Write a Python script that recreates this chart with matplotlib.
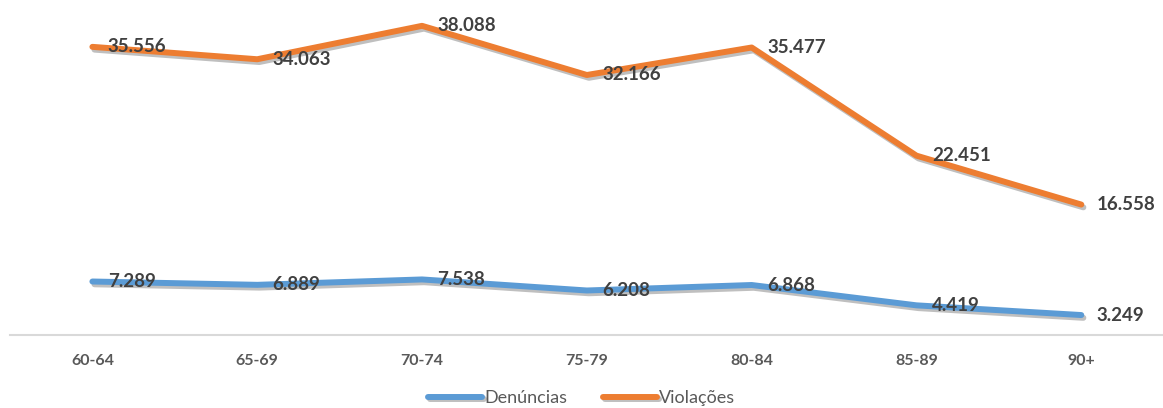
import matplotlib.pyplot as plt
import matplotlib.patheffects as pe

faixas = ['60-64', '65-69', '70-74', '75-79', '80-84', '85-89', '90+']
denuncias = [7289, 6889, 7538, 6208, 6868, 4419, 3249]
violacoes = [35556, 34063, 38088, 32166, 35477, 22451, 16558]

azul = '#5B9BD5'
laranja = '#ED7D31'


def fmt(v):
    # separador de milhar com ponto
    return f'{v:,}'.replace(',', '.')


fig = plt.figure(figsize=(11.63, 4.08), dpi=100)
ax = fig.add_axes([0.0086, 0.179, 0.992, 0.821])

x = range(len(faixas))
sombra = [pe.SimpleLineShadow(offset=(1.5, -2), alpha=0.25, shadow_color='black'), pe.Normal()]
ax.plot(x, denuncias, color=azul, lw=4.3, solid_capstyle='round',
        path_effects=sombra, label='Denúncias')
ax.plot(x, violacoes, color=laranja, lw=4.3, solid_capstyle='round',
        path_effects=sombra, label='Violações')

# rótulos de dados à direita dos pontos
for serie in (denuncias, violacoes):
    for i, v in enumerate(serie):
        ax.annotate(fmt(v), (i, v), xytext=(11, 0), textcoords='offset points',
                    ha='left', va='center', fontsize=13.5, fontweight='bold',
                    family='Lato', color='#404040')

ax.set_xlim(-0.5, len(faixas) - 0.5)
ax.set_ylim(850, 41200)
ax.set_xticks(list(x))
ax.set_xticklabels(faixas, fontsize=11.5, fontweight='bold', family='Lato', color='#595959')
ax.tick_params(axis='x', length=0, pad=14)
ax.set_yticks([])
for s in ['top', 'right', 'left']:
    ax.spines[s].set_visible(False)
ax.spines['bottom'].set_color('#D9D9D9')
ax.spines['bottom'].set_linewidth(1.5)

leg = fig.legend(loc='lower center', bbox_to_anchor=(0.5, -0.035), ncol=2, frameon=False,
                 handlelength=3.0, columnspacing=2.0, handletextpad=0.1,
                 prop={'family': 'Lato', 'size': 13})
for t in leg.get_texts():
    t.set_color('#595959')
for h in leg.legend_handles:
    h.set_linewidth(4.3)

fig.savefig('out.png', dpi=100)
